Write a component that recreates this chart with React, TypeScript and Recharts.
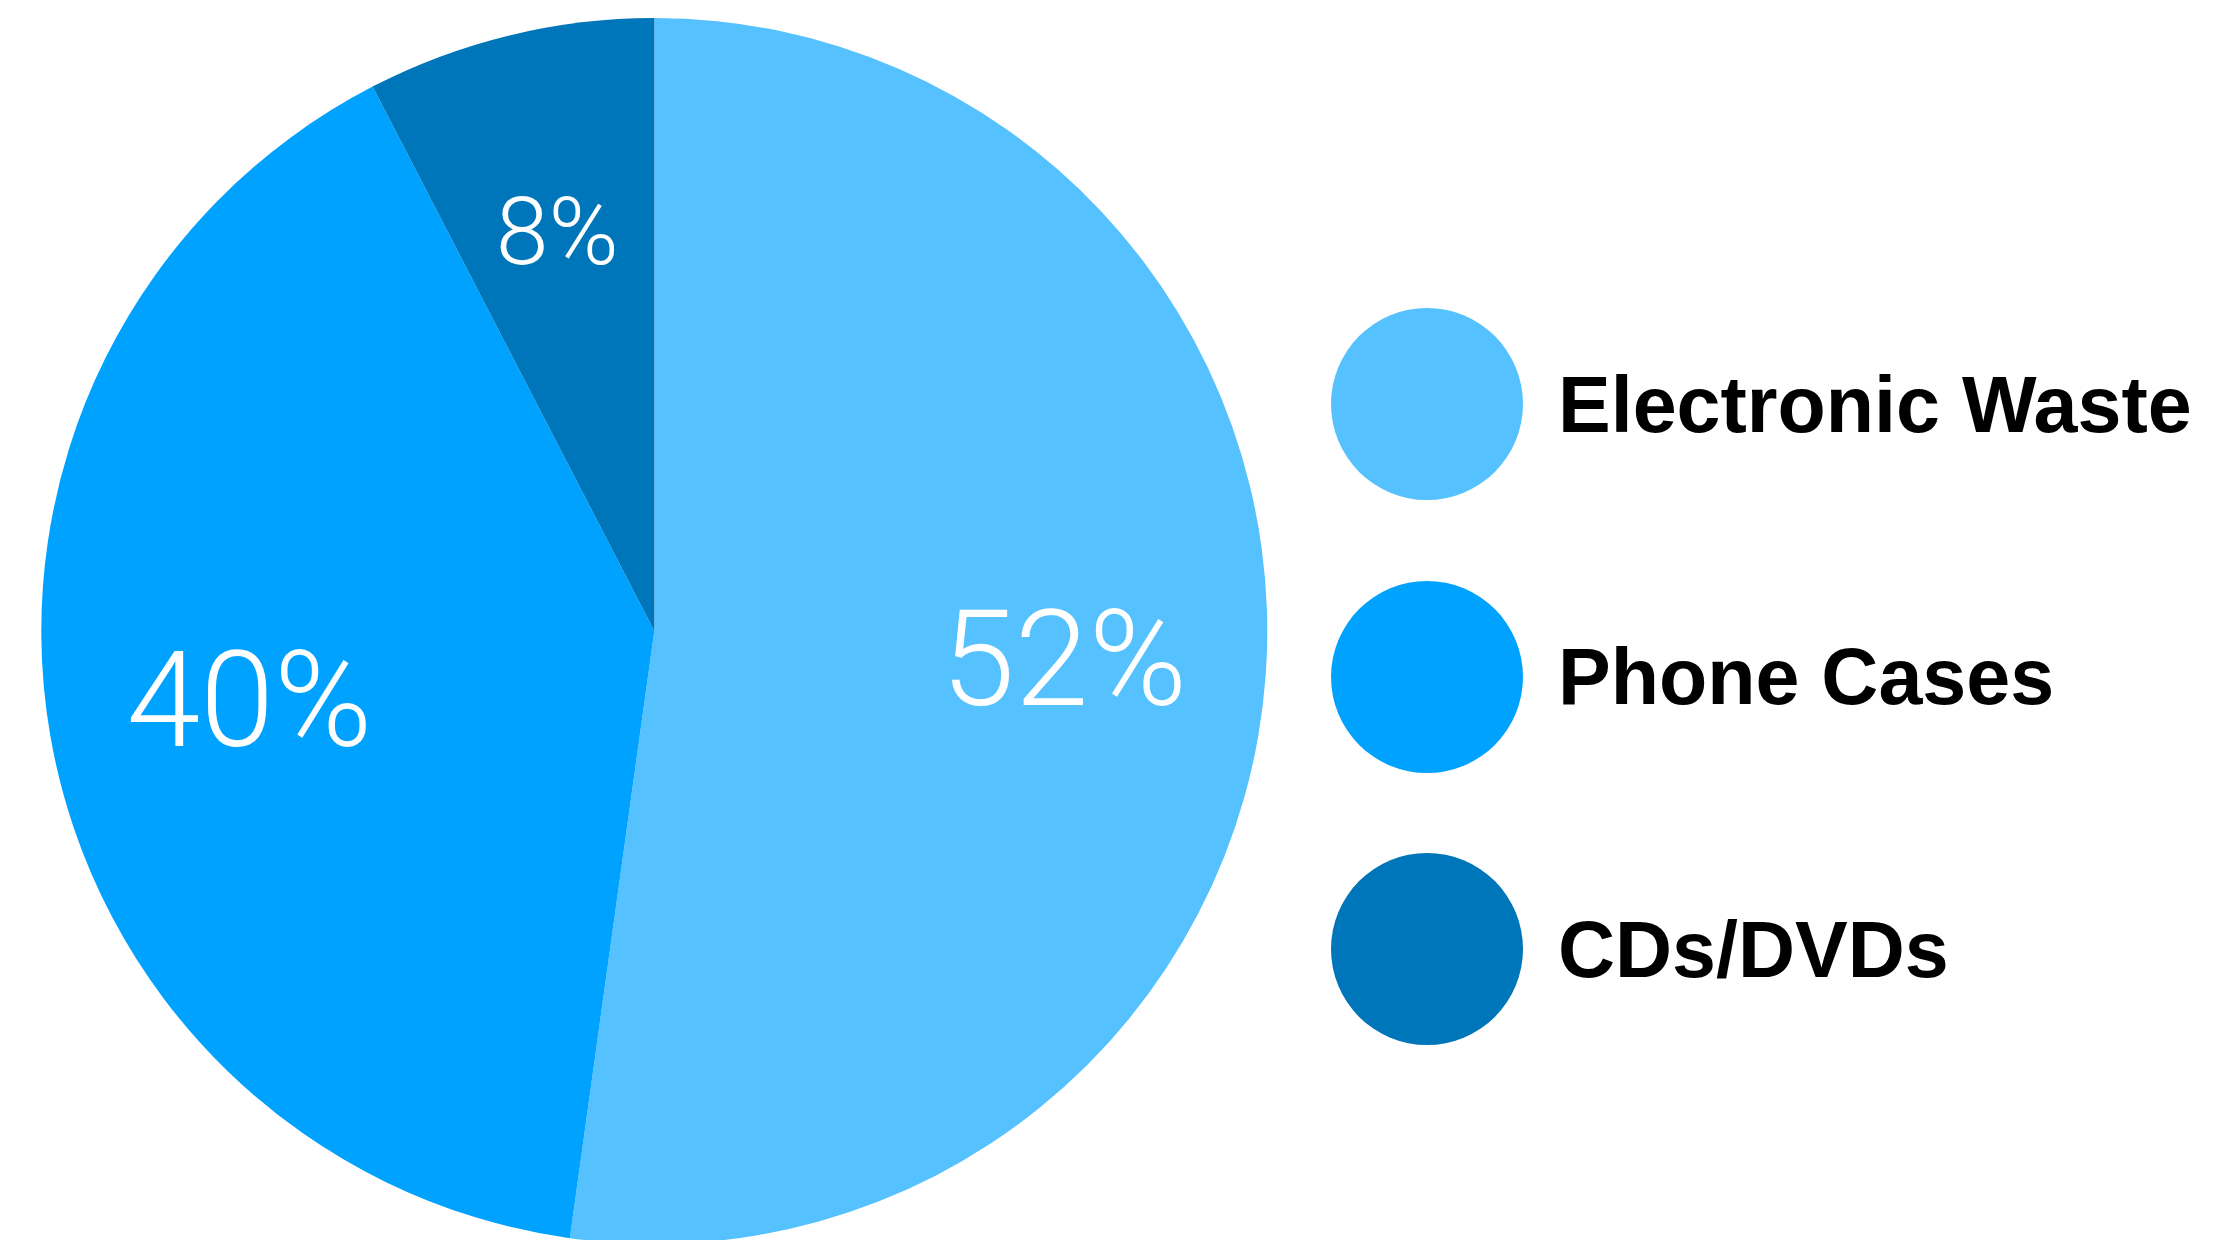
import React from "react";
import { PieChart, Pie, Cell, Legend } from "recharts";

const categories = ["Electronic Waste", "Phone Cases", "CDs/DVDs"];
const values = [52.2, 40.2, 7.6];
const labels = ["52%", "40%", "8%"];
const colors = ["#56C1FF", "#00A2FF", "#0076BA"];
const labelSizes = [133, 133, 95];

const data = categories.map((name, i) => ({ name, value: values[i], label: labels[i] }));

const RAD = Math.PI / 180;

const renderLabel = (props: any) => {
  const { cx, cy, midAngle, outerRadius, index } = props;
  const r = outerRadius * 0.67;
  const x = cx + r * Math.cos(-midAngle * RAD);
  const y = cy + r * Math.sin(-midAngle * RAD);
  return (
    <text
      x={x}
      y={y}
      fill="#ffffff"
      textAnchor="middle"
      dominantBaseline="central"
      fontFamily="Roboto, 'Liberation Sans', sans-serif"
      fontWeight={300}
      fontSize={labelSizes[index]}
    >
      {data[index].label}
    </text>
  );
};

const renderLegend = () => {
  return (
    <div>
      {categories.map((name, i) => (
        <div
          key={name}
          style={{
            display: "flex",
            alignItems: "center",
            height: 192,
            marginBottom: 80.5,
          }}
        >
          <div
            style={{
              width: 192,
              height: 192,
              borderRadius: "50%",
              background: colors[i],
              flexShrink: 0,
            }}
          />
          <span
            style={{
              marginLeft: 35,
              fontFamily: "'Liberation Sans', Arial, sans-serif",
              fontWeight: 700,
              fontSize: 79,
              lineHeight: 1,
              color: "#000",
              whiteSpace: "nowrap",
            }}
          >
            {name}
          </span>
        </div>
      ))}
    </div>
  );
};

export default function App() {
  return (
    <div
      style={{
        position: "absolute",
        left: 0,
        top: 0,
        width: 2238,
        height: 1240,
        background: "#ffffff",
        overflow: "hidden",
      }}
    >
      <PieChart width={2238} height={1240} margin={{ top: 0, right: 0, bottom: 0, left: 0 }}>
        <Pie
          data={data}
          dataKey="value"
          nameKey="name"
          cx={654.3}
          cy={631}
          outerRadius={613}
          startAngle={90}
          endAngle={-270}
          stroke="none"
          label={renderLabel}
          labelLine={false}
          isAnimationActive={false}
        >
          {data.map((d, i) => (
            <Cell key={d.name} fill={colors[i]} />
          ))}
        </Pie>
        <Legend
          layout="horizontal"
          verticalAlign="middle"
          align="center"
          wrapperStyle={{ left: 1331, top: 308, width: 900, height: 800 }}
          content={renderLegend}
        />
      </PieChart>
    </div>
  );
}
